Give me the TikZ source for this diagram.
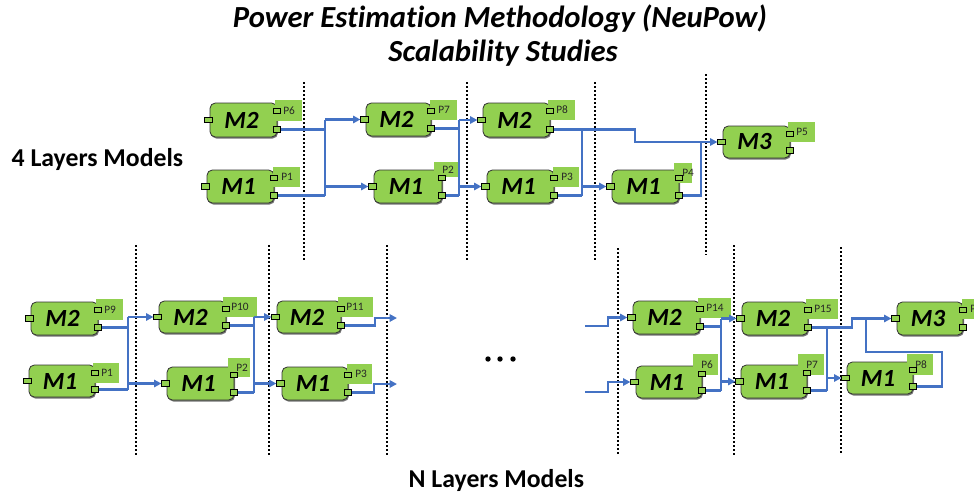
\documentclass[tikz,border=0pt]{standalone}
\usepackage{fontspec}
\setmainfont{Carlito}[Ligatures=NoCommon]
\usetikzlibrary{arrows.meta}
\definecolor{mgreen}{HTML}{92D050}
\definecolor{wblue}{HTML}{4472C4}
\tikzset{
  boxline/.style={draw=black!80, fill=mgreen, line width=0.6pt, rounded corners=4pt},
  boxshadow/.style={fill=black!55, rounded corners=4pt},
  mtext/.style={inner sep=0pt, font=\fontsize{18.5}{18.5}\selectfont\bfseries\itshape},
  ptext/.style={inner sep=0pt, anchor=west, font=\fontsize{8.5}{8.5}\selectfont, text=black!85},
  portbox/.style={draw=black, fill=mgreen, line width=0.55pt, minimum width=5.6pt, minimum height=4pt, inner sep=0pt},
  wire/.style={draw=wblue, line width=1.6pt},
  arr/.style={wire, -{Triangle[length=5.5pt,width=5.5pt]}},
  sep/.style={draw=black, line width=1.5pt, dash pattern=on 1.5pt off 1.5pt},
  dotmark/.style={fill=black}
}
\newcommand\modbox[6]{%
  \def\bxa{#2}\def\bya{#3}\def\bxb{#4}\def\byb{#5}%
  \fill[boxshadow] ({#2+1},{#3+1.5}) rectangle ({#4+1},{#5+1.5});
  \draw[boxline] (#2,#3) rectangle (#4,#5);
  \node[mtext] (#1) at ({(#2+#4)/2-2},{(#3+#5)/2}) {#6};
}
\newcommand\modlabel[6]{%
  \fill[mgreen] (#2,#3) rectangle (#4,#5);
  \node[ptext] (#1-p) at ({#2+8},{(#3+#5)/2}) {#6};
  \node[portbox] (#1-l) at ({\bxa-1.5},{(\bya+\byb)/2}) {};
  \node[portbox] (#1-u) at (\bxb,{\bya+8}) {};
  \node[portbox] (#1-r) at (\bxb,{\byb-7.5}) {};
}
\begin{document}
\begin{tikzpicture}[x=0.75pt,y=-0.75pt]
\useasboundingbox (0,0) rectangle (974,496);
% titles
\node[anchor=base, font=\fontsize{23}{23}\selectfont\bfseries\itshape] (title1) at (500,27) {Power Estimation Methodology (NeuPow)};
\node[anchor=base, font=\fontsize{23}{23}\selectfont\bfseries\itshape] (title2) at (503,61) {Scalability Studies};
\node[anchor=base west, font=\fontsize{19.3}{19.3}\selectfont\bfseries] (lab4) at (7,166) {4 Layers Models};
\node[anchor=base west, font=\fontsize{19.3}{19.3}\selectfont\bfseries] (labN) at (404,487) {N Layers Models};
% separators
\foreach \xx/\ya/\yb in {304/82/262, 467/82/262, 595/82/262, 706/74/255,
  136/245/455, 269/245/455, 387/245/455, 618/248/455, 734/245/455, 841/247/455}
  \draw[sep] (\xx,\ya) -- (\xx,\yb);
% ellipsis
\foreach \xx in {488,500,513} \fill[dotmark] (\xx,359) circle (2.7);
% ---- top modules
\modbox{ta}{210}{103}{277}{137}{M2}\modlabel{ta}{275}{100}{302}{121}{P6}
\modbox{tb}{207}{170}{274}{203}{M1}\modlabel{tb}{273}{167}{300}{187}{P1}
\modbox{tc}{366}{103}{431}{136}{M2}\modlabel{tc}{430}{100}{457}{120}{P7}
\modbox{td}{374}{170}{442}{203}{M1}\modlabel{td}{434}{162}{460}{177}{P2}
\modbox{te}{483}{103}{550}{137}{M2}\modlabel{te}{548}{100}{575}{120}{P8}
\modbox{tf}{487}{170}{554}{203}{M1}\modlabel{tf}{553}{167}{579}{187}{P3}
\modbox{tg}{612}{170}{679}{203}{M1}\modlabel{tg}{674}{163}{692}{183}{P4}
\modbox{th}{723}{126}{790}{158}{M3}\modlabel{th}{788}{122}{815}{142}{P5}
% ---- bottom modules
\modbox{ba}{31}{302}{98}{335}{M2}\modlabel{ba}{96}{299}{123}{320}{P9}
\modbox{bb}{29}{365}{95}{397}{M1}\modlabel{bb}{93}{363}{119}{383}{P1}
\modbox{bc}{159}{301}{226}{333}{M2}\modlabel{bc}{223}{297}{257}{317}{P10}
\modbox{bd}{167}{367}{234}{400}{M1}\modlabel{bd}{228}{358}{250}{377}{P2}
\modbox{be}{277}{301}{341}{333}{M2}\modlabel{be}{338}{297}{373}{317}{P11}
\modbox{bf}{282}{367}{348}{400}{M1}\modlabel{bf}{347}{364}{372}{384}{P3}
\modbox{bg}{633}{301}{700}{334}{M2}\modlabel{bg}{698}{298}{731}{318}{P14}
\modbox{bh}{636}{366}{702}{398}{M1}\modlabel{bh}{693}{354}{718}{375}{P6}
\modbox{bi}{742}{302}{808}{335}{M2}\modlabel{bi}{806}{299}{838}{319}{P15}
\modbox{bj}{741}{365}{807}{398}{M1}\modlabel{bj}{798}{354}{824}{375}{P7}
\modbox{bk}{897}{302}{963}{335}{M3}\modlabel{bk}{962}{299}{990}{319}{P}
\modbox{bl}{847}{362}{913}{394}{M1}\modlabel{bl}{907}{354}{933}{375}{P8}
% ---- junction coordinates
\coordinate (j1) at (325,0);
\coordinate (j2) at (459,0);
\coordinate (j3) at (635,0);
\coordinate (j4) at (582,0);
\coordinate (j5) at (701,0);
\coordinate (j6) at (128,0);
\coordinate (j7) at (254,0);
\coordinate (j8) at (375,0);
\coordinate (j9) at (374,0);
\coordinate (o1) at (397,318);
\coordinate (o2) at (397,384);
\coordinate (i1) at (585,326);
\coordinate (i2) at (585,392);
\coordinate (j10) at (608,0);
\coordinate (j11) at (721,0);
\coordinate (j12) at (852,0);
\coordinate (j13) at (827,0);
\coordinate (j14) at (866,0);
\coordinate (lp1) at (942,352);
% ---- top wires
\draw[wire] (ta-r.east) -- (ta-r.east -| j1);
\draw[wire] (tb-r.east) -- (tb-r.east -| j1);
\draw[wire] (j1 |- tc-l) -- (j1 |- tb-r);
\draw[arr] (j1 |- tc-l) -- (tc-l.west);
\draw[arr] (j1 |- td-l) -- (td-l.west);
\draw[wire] (tc-r.east) -- (tc-r.east -| j2);
\draw[wire] (td-r.east) -- (td-r.east -| j2);
\draw[wire] (j2 |- te-l) -- (j2 |- td-r);
\draw[arr] (j2 |- te-l) -- (te-l.west);
\draw[arr] (j2 |- tf-l) -- (tf-l.west);
\draw[arr] (te-r.east) -| (j3 |- th-l) -- (th-l.west);
\draw[wire] (j4 |- te-r) -- (j4 |- tf-r);
\draw[wire] (tf-r.east) -- (j4 |- tf-r);
\draw[arr] (j4 |- tg-l) -- (tg-l.west);
\draw[wire] (tg-r.east) -| (j5 |- th-l);
% ---- bottom wires
\draw[wire] (ba-r.east) -- (ba-r.east -| j6);
\draw[wire] (bb-r.east) -- (bb-r.east -| j6);
\draw[wire] (j6 |- bc-l) -- (j6 |- bb-r);
\draw[arr] (j6 |- bc-l) -- (bc-l.west);
\draw[arr] (j6 |- bd-l) -- (bd-l.west);
\draw[wire] (bc-r.east) -- (bc-r.east -| j7);
\draw[wire] (bd-r.east) -- (bd-r.east -| j7);
\draw[wire] (j7 |- be-l) -- (j7 |- bd-r);
\draw[arr] (j7 |- be-l) -- (be-l.west);
\draw[arr] (j7 |- bf-l) -- (bf-l.west);
\draw[arr] (be-r.east) -| (j8 |- o1) -- (o1);
\draw[arr] (bf-r.east) -| (j9 |- o2) -- (o2);
\draw[arr] (i1) -| (j10 |- bg-l) -- (bg-l.west);
\draw[arr] (i2) -| (j10 |- bh-l) -- (bh-l.west);
\draw[wire] (bg-r.east) -- (bg-r.east -| j11);
\draw[wire] (bh-r.east) -- (bh-r.east -| j11);
\draw[wire] (j11 |- bi-l) -- (j11 |- bh-r);
\draw[arr] (j11 |- bi-l) -- (bi-l.west);
\draw[arr] (j11 |- bj-l) -- (bj-l.west);
\draw[arr] (bi-r.east) -| (j12 |- bk-l) -- (bk-l.west);
\draw[wire] (j13 |- bi-r) -- (j13 |- bj-r);
\draw[wire] (bj-r.east) -- (j13 |- bj-r);
\draw[arr] (j13 |- bl-l) -- (bl-l.west);
\draw[wire] (bl-r.east) -| (lp1) -| (j14 |- bk-l);
\end{tikzpicture}
\end{document}
